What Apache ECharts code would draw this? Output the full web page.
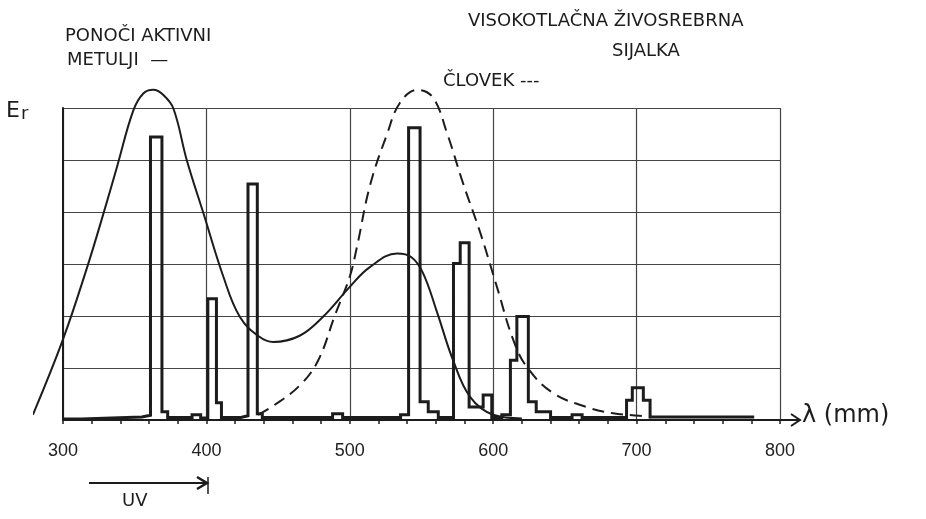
<!DOCTYPE html>
<html>
<head>
<meta charset="utf-8" />
<script src="https://cdn.jsdelivr.net/npm/echarts@6/dist/echarts.min.js"></script>
<style>
  html, body { margin: 0; padding: 0; background: #fff; }
  #chart { width: 926px; height: 519px; }
</style>
</head>
<body>
<div id="chart"></div>
<script>
// tick labels on the wavelength axis
const xTicks = [300, 400, 500, 600, 700, 800];

// night-active moths (solid curve), it starts a little left of 300 nm
const mothNm = [279, 300, 317, 328, 338, 349, 356, 363, 370, 377, 386.3, 398, 411.8, 423.4, 437, 446.6, 465, 481.5, 500, 514, 533, 543, 551, 561, 572, 584, 600, 620];
const mothE = [0.1, 1.55, 2.95, 3.95, 4.9, 5.95, 6.28, 6.35, 6.25, 5.99, 5.0, 3.97, 2.76, 1.98, 1.6, 1.5, 1.62, 1.99, 2.56, 2.94, 3.2, 3.13, 2.83, 2.06, 1.15, 0.44, 0.1, 0.03];

// human eye (dashed curve)
const humanNm = [436, 446.5, 465.3, 478, 489.7, 500, 505, 514, 526, 535, 547, 558, 568, 579, 591, 602.6, 614, 623.5, 641.7, 665, 683.6, 702, 710];
const humanE = [0.1, 0.27, 0.67, 1.15, 2.02, 2.76, 3.33, 4.5, 5.5, 6.1, 6.35, 6.2, 5.5, 4.55, 3.6, 2.56, 1.54, 1.02, 0.52, 0.25, 0.13, 0.08, 0.05];

// high-pressure mercury lamp (stepped spectrum)
const lampNm = [300, 313, 313, 334, 334, 355, 355, 361, 361, 369, 369, 373, 373, 390, 390, 396, 396, 401, 401, 407, 407, 410.5, 410.5, 424, 424, 429, 429, 435.5, 435.5, 439, 439, 488, 488, 495, 495, 535.4, 535.4, 541, 541, 549, 549, 554.7, 554.7, 561.7, 561.7, 572.3, 572.3, 577, 577, 583.2, 583.2, 593, 593, 599, 599, 606, 606, 612, 612, 616.5, 616.5, 624.5, 624.5, 630, 630, 640, 640, 655, 655, 662, 662, 693, 693, 697, 697, 704.7, 704.7, 709.4, 709.4, 782];
const lampE = [0.02, 0.02, 0.04, 0.04, 0.06, 0.06, 0.09, 0.09, 5.44, 5.44, 0.16, 0.16, 0.05, 0.05, 0.1, 0.1, 0.04, 0.04, 2.33, 2.33, 0.33, 0.33, 0.05, 0.05, 0.08, 0.08, 4.54, 4.54, 0.12, 0.12, 0.05, 0.05, 0.12, 0.12, 0.05, 0.05, 0.1, 0.1, 5.62, 5.62, 0.35, 0.35, 0.16, 0.16, 0.05, 0.05, 3.01, 3.01, 3.41, 3.41, 0.25, 0.25, 0.48, 0.48, 0.05, 0.05, 0.1, 0.1, 1.15, 1.15, 1.99, 1.99, 0.35, 0.35, 0.16, 0.16, 0.05, 0.05, 0.1, 0.1, 0.05, 0.05, 0.38, 0.38, 0.62, 0.62, 0.38, 0.38, 0.06, 0.06];

const zip = (xs, ys) => xs.map((x, i) => [x, ys[i]]);

const ink = "#1c1c1c";
const hand = "DejaVu Sans";

const chart = echarts.init(document.getElementById("chart"));
const option = {
  backgroundColor: "#ffffff",
  animation: false,
  grid: [
    { left: 63, right: 146, top: 108, bottom: 99 },
    // same scale, widened to 280 nm so the moth curve can start left of the frame
    { left: 34.3, right: 146, top: 108, bottom: 99 },
  ],
  xAxis: [
    {
      type: "value",
      gridIndex: 0,
      min: xTicks[0],
      max: xTicks[xTicks.length - 1],
      interval: 100,
      axisLine: { show: true, lineStyle: { color: ink, width: 2 } },
      axisTick: { show: true, length: 4, lineStyle: { color: ink, width: 1.5 } },
      minorTick: { show: true, splitNumber: 5, length: 4, lineStyle: { color: ink, width: 1.5 } },
      axisLabel: {
        color: "#222",
        fontSize: 18,
        fontFamily: "Liberation Sans",
        margin: 22,
      },
      splitLine: { show: true, lineStyle: { color: "#444", width: 1.2 } },
    },
    { type: "value", gridIndex: 1, min: 280, max: 800, show: false },
  ],
  yAxis: [
    {
      type: "value",
      gridIndex: 0,
      min: 0,
      max: 6,
      interval: 1,
      axisLine: { show: true, lineStyle: { color: ink, width: 2 } },
      axisTick: { show: false },
      axisLabel: { show: false },
      splitLine: { show: true, lineStyle: { color: "#444", width: 1.2 } },
    },
    { type: "value", gridIndex: 1, min: 0, max: 6, show: false },
  ],
  series: [
    {
      name: "Visokotlačna živosrebrna sijalka",
      type: "line",
      data: zip(lampNm, lampE),
      showSymbol: false,
      clip: false,
      lineStyle: { color: ink, width: 3, join: "miter" },
      z: 3,
    },
    {
      name: "Ponoči aktivni metulji",
      type: "line",
      xAxisIndex: 1,
      yAxisIndex: 1,
      data: zip(mothNm, mothE),
      smooth: 0.4,
      showSymbol: false,
      clip: false,
      lineStyle: { color: ink, width: 2 },
      z: 4,
    },
    {
      name: "Človek",
      type: "line",
      data: zip(humanNm, humanE),
      smooth: 0.4,
      showSymbol: false,
      clip: false,
      lineStyle: { color: ink, width: 2, type: [12, 7] },
      z: 4,
    },
  ],
  graphic: [
    { type: "text", left: 65, top: 27, style: { text: "PONOČI AKTIVNI", fontSize: 18, fontFamily: hand, fill: ink } },
    { type: "text", left: 67, top: 51, style: { text: "METULJI  —", fontSize: 18, fontFamily: hand, fill: ink } },
    { type: "text", left: 468, top: 12, style: { text: "VISOKOTLAČNA ŽIVOSREBRNA", fontSize: 18, fontFamily: hand, fill: ink } },
    { type: "text", left: 612, top: 42, style: { text: "SIJALKA", fontSize: 18, fontFamily: hand, fill: ink } },
    { type: "text", left: 443, top: 72, style: { text: "ČLOVEK ---", fontSize: 18, fontFamily: hand, fill: ink } },
    { type: "text", left: 6, top: 100, style: { text: "{e|E}{r|r}", rich: { e: { fontSize: 22, fontFamily: hand, fill: ink }, r: { fontSize: 18, fontFamily: hand, fill: ink, padding: [6, 0, 0, 1] } } } },
    { type: "text", left: 802, top: 404, style: { text: "λ (mm)", fontSize: 24, fontFamily: hand, fill: ink } },
    { type: "text", left: 122, top: 492, style: { text: "UV", fontSize: 18, fontFamily: hand, fill: ink } },
    // arrow continuing the wavelength axis
    { type: "polyline", shape: { points: [[780, 420], [800, 420]] }, style: { stroke: ink, lineWidth: 2 } },
    { type: "polyline", shape: { points: [[791, 414], [800, 420], [791, 426]] }, style: { stroke: ink, lineWidth: 2, fill: null } },
    // UV range arrow
    { type: "polyline", shape: { points: [[89, 483], [208, 483]] }, style: { stroke: ink, lineWidth: 2 } },
    { type: "polyline", shape: { points: [[197, 477], [207, 483], [197, 489]] }, style: { stroke: ink, lineWidth: 2.5, fill: null } },
    { type: "polyline", shape: { points: [[208, 477], [208, 494]] }, style: { stroke: ink, lineWidth: 1.5 } },
  ],
};
chart.setOption(option);
</script>
</body>
</html>
